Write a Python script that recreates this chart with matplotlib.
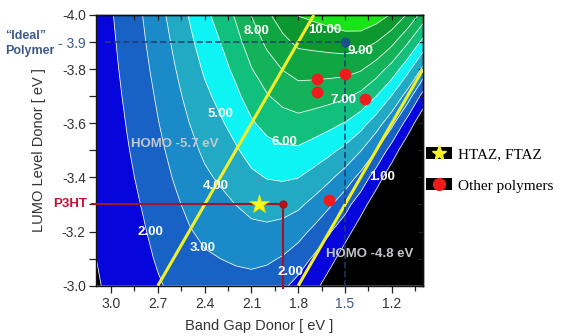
import matplotlib
matplotlib.use("Agg")
import numpy as np
import matplotlib.pyplot as plt
from matplotlib.patches import Rectangle
from matplotlib.lines import Line2D
from matplotlib.legend_handler import HandlerTuple

plt.rcParams['font.family'] = ['Liberation Sans', 'DejaVu Sans']

# ---------------- data ----------------
band_gap = [3.1, 3.0, 2.9, 2.8, 2.7, 2.6, 2.5, 2.4, 2.3, 2.2, 2.1,
            2.0, 1.9, 1.8, 1.7, 1.6, 1.5, 1.4, 1.3, 1.2, 1.1, 1.0]
lumo = [-4.0, -3.9, -3.8, -3.7, -3.6, -3.5, -3.4, -3.3, -3.2, -3.1, -3.0]

# efficiency (%) : one row per LUMO level, one column per band gap
eff_m40 = [1.55, 1.92, 2.46, 2.99, 3.65, 4.34, 5.05, 5.76, 6.38, 7.12, 8.03, 8.82, 9.49, 10.03, 10.23, 10.45, 10.71, 10.80, 10.50, 9.90, 8.90, 7.60]
eff_m39 = [1.49, 1.84, 2.35, 2.86, 3.48, 4.12, 4.79, 5.44, 6.00, 6.68, 7.49, 8.19, 8.76, 9.20, 9.30, 9.41, 9.52, 9.45, 9.00, 8.25, 7.12, 5.70]
eff_m38 = [1.43, 1.76, 2.25, 2.72, 3.31, 3.91, 4.52, 5.12, 5.63, 6.23, 6.96, 7.56, 8.03, 8.36, 8.37, 8.36, 8.33, 8.10, 7.50, 6.60, 5.34, 3.80]
eff_m37 = [1.36, 1.68, 2.14, 2.58, 3.13, 3.69, 4.26, 4.80, 5.25, 5.79, 6.42, 6.93, 7.30, 7.52, 7.44, 7.32, 7.14, 6.75, 6.00, 4.95, 3.56, 1.60]
eff_m36 = [1.30, 1.60, 2.03, 2.45, 2.96, 3.47, 3.99, 4.48, 4.88, 5.34, 5.89, 6.30, 6.57, 6.69, 6.51, 6.27, 5.95, 5.40, 4.50, 3.30, 1.55, 0.30]
eff_m35 = [1.24, 1.52, 1.93, 2.31, 2.78, 3.26, 3.72, 4.16, 4.50, 4.90, 5.35, 5.67, 5.84, 5.85, 5.58, 5.23, 4.76, 4.05, 3.00, 1.50, 0.35, 0.00]
eff_m34 = [1.18, 1.44, 1.82, 2.18, 2.61, 3.04, 3.46, 3.84, 4.13, 4.45, 4.82, 5.04, 5.11, 5.02, 4.65, 4.18, 3.57, 2.70, 1.45, 0.40, 0.00, 0.00]
eff_m33 = [1.12, 1.36, 1.71, 2.04, 2.44, 2.82, 3.19, 3.52, 3.75, 4.01, 4.28, 4.41, 4.38, 4.18, 3.72, 3.14, 2.38, 1.40, 0.45, 0.00, 0.00, 0.00]
eff_m32 = [1.05, 1.28, 1.61, 1.90, 2.26, 2.60, 2.93, 3.20, 3.38, 3.56, 3.75, 3.78, 3.65, 3.34, 2.79, 2.09, 1.38, 0.50, 0.00, 0.00, 0.00, 0.00]
eff_m31 = [0.99, 1.20, 1.50, 1.77, 2.09, 2.39, 2.66, 2.88, 3.00, 3.12, 3.21, 3.15, 2.92, 2.51, 1.86, 1.35, 0.50, 0.00, 0.00, 0.00, 0.00, 0.00]
eff_m30 = [0.93, 1.12, 1.39, 1.63, 1.91, 2.17, 2.39, 2.56, 2.63, 2.67, 2.68, 2.52, 2.19, 1.67, 1.33, 0.50, 0.00, 0.00, 0.00, 0.00, 0.00, 0.00]
efficiency = [eff_m40, eff_m39, eff_m38, eff_m37, eff_m36, eff_m35,
              eff_m34, eff_m33, eff_m32, eff_m31, eff_m30]

contour_levels = [-1, 1, 2, 3, 4, 5, 6, 7, 8, 9, 10, 20]
line_levels = [1, 2, 3, 4, 5, 6, 7, 8, 9, 10]
band_colors = ['#000000', '#0606dc', '#1862c6', '#1a8ac8', '#22a9c4', '#0ef4f4',
               '#12c07e', '#14b25a', '#10a644', '#0c982e', '#18e418']

# contour value labels (text, band gap, LUMO)
label_texts = ['10.00', '8.00', '9.00', '7.00', '5.00', '6.00', '4.00', '2.00', '3.00', '2.00', '1.00']
label_eg = [1.63, 2.07, 1.40, 1.51, 2.30, 1.89, 2.33, 2.75, 2.41, 1.85, 1.26]
label_lumo = [-3.945, -3.94, -3.867, -3.686, -3.634, -3.531, -3.368, -3.198, -3.139, -3.051, -3.40]

# HOMO iso-lines
homo57_eg = [2.7, 1.7]
homo57_lumo = [-3.0, -4.0]
homo48_eg = [1.8, 1.0]
homo48_lumo = [-3.0, -3.8]

# polymers
other_eg = [1.68, 1.50, 1.68, 1.37, 1.60]
other_lumo = [-3.764, -3.782, -3.717, -3.69, -3.317]
star_eg = [2.05]
star_lumo = [-3.30]
p3ht_eg = [1.9]
p3ht_lumo = [-3.30]
ideal_eg = [1.5]
ideal_lumo = [-3.9]

xticks_major = [3.0, 2.7, 2.4, 2.1, 1.8, 1.5, 1.2]
xticks_minor = [2.85, 2.55, 2.25, 1.95, 1.65, 1.35, 1.05]
yticks_major = [-4.0, -3.9, -3.8, -3.6, -3.4, -3.2, -3.0]
ytick_labels = ['-4.0', '- 3.9', '-3.8', '-3.6', '-3.4', '-3.2', '-3.0']
yticks_minor = [-3.7, -3.5, -3.3, -3.1]
legend_labels = ['HTAZ, FTAZ', 'Other polymers']

# ---------------- figure ----------------
W, H = 567, 336
fig = plt.figure(figsize=(W / 100, H / 100), dpi=100)
L, R, T, B = 95.5, 423, 15, 285.7
ax = fig.add_axes([L / W, 1 - B / H, (R - L) / W, (B - T) / H])

ax.contourf(band_gap, lumo, efficiency, levels=contour_levels, colors=band_colors,
            antialiased=True, zorder=0)
ax.contour(band_gap, lumo, efficiency, levels=line_levels, colors='white',
           linewidths=0.6, alpha=0.85, zorder=1)

ax.set_xlim(3.1, 1.0)
ax.set_ylim(-3.0, -4.0)

yellow = '#f0f02a'
ax.plot(homo57_eg, homo57_lumo, color=yellow, lw=2.2, zorder=3, solid_capstyle='butt')
ax.plot(homo48_eg, homo48_lumo, color=yellow, lw=2.2, zorder=3, solid_capstyle='butt')

# ideal polymer dashed guide
dash_col = '#1f3d6e'
ax.plot([3.04, ideal_eg[0]], [ideal_lumo[0], ideal_lumo[0]], color=dash_col, lw=1.1,
        ls=(0, (4, 2)), zorder=4)
ax.plot([ideal_eg[0], ideal_eg[0]], [ideal_lumo[0], -2.99], color=dash_col, lw=1.1,
        ls=(0, (4, 2)), zorder=4, clip_on=False)
ax.plot(ideal_eg, ideal_lumo, 'o', color='#1f4e8c', ms=7, mec='none', zorder=6)

# P3HT guide
p3_col = '#a3142a'
ax.plot([3.125, p3ht_eg[0]], [p3ht_lumo[0], p3ht_lumo[0]], color=p3_col, lw=1.5,
        zorder=4, clip_on=False)
ax.plot([p3ht_eg[0], p3ht_eg[0]], [p3ht_lumo[0], -2.99], color=p3_col, lw=1.5,
        zorder=4, clip_on=False)
ax.plot(p3ht_eg, p3ht_lumo, 'o', color='#b0101c', ms=6, mec='none', zorder=6)

ax.plot(other_eg, other_lumo, 'o', color='#ee1c1c', ms=8.5, mec='none', zorder=6)
ax.plot(star_eg, star_lumo, '*', color='#f8f820', ms=15, mec='#e0e000', mew=0.5, zorder=6)

# contour labels
for t, xe, yl in zip(label_texts, label_eg, label_lumo):
    ax.text(xe, yl, t, color='white', fontsize=9.5, fontweight='bold',
            ha='center', va='center', zorder=5)

ax.text(2.589, -3.523, 'HOMO -5.7 eV', color='#c4c8cc', fontsize=9.5,
        fontweight='bold', ha='center', va='center', zorder=5)
ax.text(1.343, -3.117, 'HOMO -4.8 eV', color='#c4c8cc', fontsize=9.5,
        fontweight='bold', ha='center', va='center', zorder=5)

# ticks
tick_col = '#333333'
ax.set_xticks(xticks_major)
ax.set_xticklabels([f'{v:.1f}' for v in xticks_major])
ax.set_xticks(xticks_minor, minor=True)
ax.set_yticks(yticks_major)
ax.set_yticklabels(ytick_labels)
ax.set_yticks(yticks_minor, minor=True)
ax.tick_params(axis='both', which='both', labelsize=10, labelcolor=tick_col, color='#222222', width=0.9)
ax.tick_params(axis='x', which='major', direction='out', length=5, pad=3)
ax.tick_params(axis='x', which='minor', direction='out', length=3.5)
ax.tick_params(axis='y', which='both', direction='out', length=5, pad=2)
for lab in ax.get_xticklabels():
    if lab.get_text() == '1.5':
        lab.set_color('#3d5a8a')
for lab in ax.get_yticklabels():
    if lab.get_text() == '- 3.9':
        lab.set_color('#3d5a8a')
for sp in ax.spines.values():
    sp.set_linewidth(1.0)
    sp.set_color('#111111')

# inward ticks on top and right
secx = ax.secondary_xaxis('top')
secx.set_xticks(xticks_major)
secx.set_xticks(xticks_minor, minor=True)
secx.tick_params(which='both', direction='in', length=3.5, width=0.9, color='#222222', labeltop=False)
secx.spines['top'].set_linewidth(1.0)
secy = ax.secondary_yaxis('right')
secy.set_yticks(yticks_major)
secy.set_yticks(yticks_minor, minor=True)
secy.tick_params(which='both', direction='in', length=3.5, width=0.9, color='#222222', labelright=False)
secy.spines['right'].set_linewidth(1.0)

ax.set_xlabel('Band Gap Donor [ eV ]', fontsize=10.5, color=tick_col, labelpad=6)
ax.set_ylabel('LUMO Level Donor [ eV ]', fontsize=10.5, color=tick_col, labelpad=9)

# annotations outside the axes
ax.text(-0.026, p3ht_lumo[0], 'P3HT', transform=ax.get_yaxis_transform(), color='#c8102e',
        fontsize=9.5, fontweight='bold', ha='right', va='center')
fig.text(5 / W, 1 - 30 / H, '\u201cIdeal\u201d\nPolymer', color='#3d5a8a', fontsize=9,
         fontweight='bold', ha='left', va='top', linespacing=1.35)

# legend
h1 = (Rectangle((0, 0), 1, 1, facecolor='black', edgecolor='none'),
      Line2D([], [], ls='none', marker='*', color='#f8f820', ms=11))
h2 = (Rectangle((0, 0), 1, 1, facecolor='black', edgecolor='none'),
      Line2D([], [], ls='none', marker='o', color='#ee1c1c', ms=8.5))
ax.legend([h1, h2], legend_labels, handler_map={tuple: HandlerTuple(ndivide=1)},
          loc='upper left', bbox_to_anchor=(426 / W, 1 - 147 / H),
          bbox_transform=fig.transFigure, frameon=False,
          prop={'family': 'Liberation Serif', 'size': 11},
          handlelength=1.7, handleheight=0.85, handletextpad=0.4,
          labelspacing=1.1, borderpad=0, borderaxespad=0, numpoints=1)

fig.savefig('out.png', dpi=100)
